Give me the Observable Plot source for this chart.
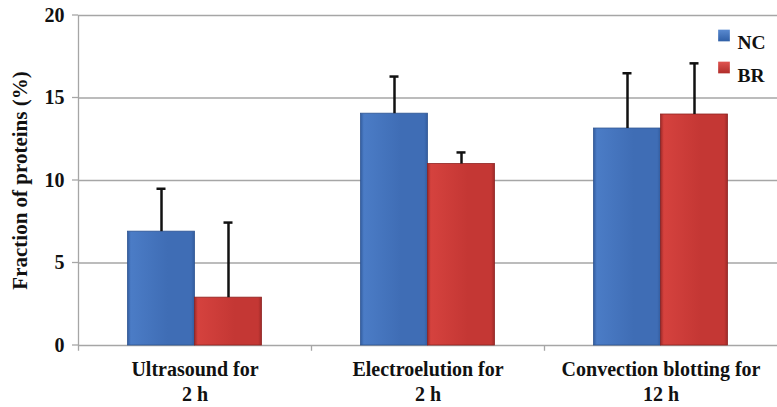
<!DOCTYPE html>
<html>
<head>
<meta charset="utf-8">
<script src="https://cdn.jsdelivr.net/npm/d3@7"></script>
<script src="https://cdn.jsdelivr.net/npm/@observablehq/plot@0.6"></script>
<style>
  html, body { margin: 0; padding: 0; background: #fff; }
  #chart { position: relative; width: 777px; height: 407px; }
  #chart svg, #chart svg text { font-family: "Liberation Serif", "DejaVu Serif", serif !important; }
</style>
</head>
<body>
<div id="chart"></div>
<script>
const categories = ["Ultrasound for\n2 h", "Electroelution for\n2 h", "Convection blotting for\n12 h"];
const series = ["NC", "BR"];
const ncValues = [6.9, 14.05, 13.15];
const ncErrors = [2.6, 2.25, 3.35];
const brValues = [2.9, 11.0, 14.0];
const brErrors = [4.55, 0.7, 3.1];
const yTicks = [0, 5, 10, 15, 20];

const rows = [];
categories.forEach((c, i) => {
  rows.push({ category: c, series: "NC", value: ncValues[i], err: ncErrors[i] });
  rows.push({ category: c, series: "BR", value: brValues[i], err: brErrors[i] });
});
const ncRows = rows.filter(d => d.series === "NC");
const brRows = rows.filter(d => d.series === "BR");

const W = 777, H = 407;
const mL = 78, mR = 0, mT = 15, mB = 62;
const band = (W - mL - mR) / categories.length;
const barW = 67;
const groupPad = (band - 2 * barW) / 2;
const grid = "#a6a6a6";
const ink = "#111";
const serif = "Liberation Serif";

const plot = Plot.plot({
  width: W,
  height: H,
  marginLeft: mL,
  marginRight: mR,
  marginTop: mT,
  marginBottom: mB,
  style: "font-family: 'Liberation Serif', serif; background: #fff;",
  x: { domain: categories, padding: 0, axis: null },
  y: { domain: [0, 20], axis: null },
  marks: [
    // gridlines
    Plot.ruleY(yTicks, { stroke: grid, strokeWidth: 1.3 }),
    // left axis line
    Plot.ruleX([categories[0]], { x: d => d, dx: -band / 2, y1: -0.35, y2: 20, stroke: grid, strokeWidth: 1.3 }),
    // left tick marks
    Plot.ruleY(yTicks, { y: d => d,
      render: (index, scales, values, dims) => {
        const g = d3.create("svg:g");
        for (const i of index) {
          g.append("line").attr("x1", dims.marginLeft - 6).attr("x2", dims.marginLeft)
            .attr("y1", values.y[i]).attr("y2", values.y[i])
            .attr("stroke", grid).attr("stroke-width", 1.3);
        }
        return g.node();
      } }),
    Plot.text(yTicks, { y: d => d, frameAnchor: "left", dx: -14, textAnchor: "end", text: d => String(d),
      fontFamily: serif, fontSize: 20, fontWeight: "bold", fill: ink }),
    // boundary ticks between categories
    Plot.ruleX(categories.slice(1), { x: d => d, dx: -band / 2, y1: 0, y2: -0.35, stroke: grid, strokeWidth: 1.3 }),
    // bars
    Plot.barY(ncRows, { x: "category", y: "value", fill: "url(#gradNC)",
      insetLeft: groupPad, insetRight: band - groupPad - barW, stroke: "#2f5592", strokeWidth: 0.8 }),
    Plot.barY(brRows, { x: "category", y: "value", fill: "url(#gradBR)",
      insetLeft: groupPad + barW, insetRight: groupPad, stroke: "#8f2422", strokeWidth: 0.8 }),
    // error bars
    Plot.ruleX(ncRows, { x: "category", y1: "value", y2: d => d.value + d.err,
      dx: groupPad + barW / 2 - band / 2, stroke: ink, strokeWidth: 2.5 }),
    Plot.ruleX(brRows, { x: "category", y1: "value", y2: d => d.value + d.err,
      dx: groupPad + barW * 1.5 - band / 2, stroke: ink, strokeWidth: 2.5 }),
    Plot.tickY(ncRows, { x: "category", y: d => d.value + d.err,
      dx: groupPad + barW / 2 - band / 2, stroke: ink, strokeWidth: 2.5, insetLeft: band / 2 - 4.5, insetRight: band / 2 - 4.5 }),
    Plot.tickY(brRows, { x: "category", y: d => d.value + d.err,
      dx: groupPad + barW * 1.5 - band / 2, stroke: ink, strokeWidth: 2.5, insetLeft: band / 2 - 4.5, insetRight: band / 2 - 4.5 }),
    // category labels (two lines each)
    Plot.text(categories, { x: d => d, frameAnchor: "bottom", dy: 15.8, lineAnchor: "top",
      text: d => d.split("\n")[0], fontFamily: serif, fontSize: 20, fontWeight: "bold", fill: ink }),
    Plot.text(categories, { x: d => d, frameAnchor: "bottom", dy: 40.8, lineAnchor: "top",
      text: d => d.split("\n")[1], fontFamily: serif, fontSize: 20, fontWeight: "bold", fill: ink }),
    // y axis title
    Plot.text(["Fraction of proteins (%)"], { frameAnchor: "left", textAnchor: "middle", dx: -58, y: () => 10, rotate: -90,
      text: d => d, fontFamily: serif, fontSize: 21, fontWeight: "bold", fill: ink }),
    // legend
    Plot.dot(["NC"], { frameAnchor: "top-right", dx: -53.5, dy: 20, symbol: "square",
      r: 6.6, fill: "url(#gradNCl)", stroke: "none" }),
    Plot.dot(["BR"], { frameAnchor: "top-right", dx: -53.5, dy: 52, symbol: "square",
      r: 6.6, fill: "url(#gradBRl)", stroke: "none" }),
    Plot.text(["NC"], { frameAnchor: "top-right", dx: -40, dy: 19.5, textAnchor: "start",
      text: d => d, fontFamily: serif, fontSize: 19.5, fontWeight: "bold", fill: ink }),
    Plot.text(["BR"], { frameAnchor: "top-right", dx: -40, dy: 52.5, textAnchor: "start",
      text: d => d, fontFamily: serif, fontSize: 19.5, fontWeight: "bold", fill: ink })
  ]
});

// gradients for bevelled bars
const svg = d3.select(plot);
const defs = svg.insert("defs", ":first-child");
function grad(id, c0, c1, c2) {
  const g = defs.append("linearGradient").attr("id", id).attr("x1", 0).attr("x2", 1).attr("y1", 0).attr("y2", 0);
  g.append("stop").attr("offset", "0%").attr("stop-color", c2);
  g.append("stop").attr("offset", "5%").attr("stop-color", c0);
  g.append("stop").attr("offset", "60%").attr("stop-color", c1);
  g.append("stop").attr("offset", "95%").attr("stop-color", c1);
  g.append("stop").attr("offset", "100%").attr("stop-color", c2);
}
function vgrad(id, c0, c1) {
  const g = defs.append("linearGradient").attr("id", id).attr("x1", 0).attr("x2", 0).attr("y1", 0).attr("y2", 1);
  g.append("stop").attr("offset", "0%").attr("stop-color", c0);
  g.append("stop").attr("offset", "100%").attr("stop-color", c1);
}
grad("gradNC", "#4b7cc6", "#3f6db5", "#335d9f");
grad("gradBR", "#d5423e", "#c43734", "#9e2a28");
vgrad("gradNCl", "#5a8ad0", "#2f5fa6");
vgrad("gradBRl", "#e05450", "#b02d2a");

document.getElementById("chart").appendChild(plot);
</script>
</body>
</html>
